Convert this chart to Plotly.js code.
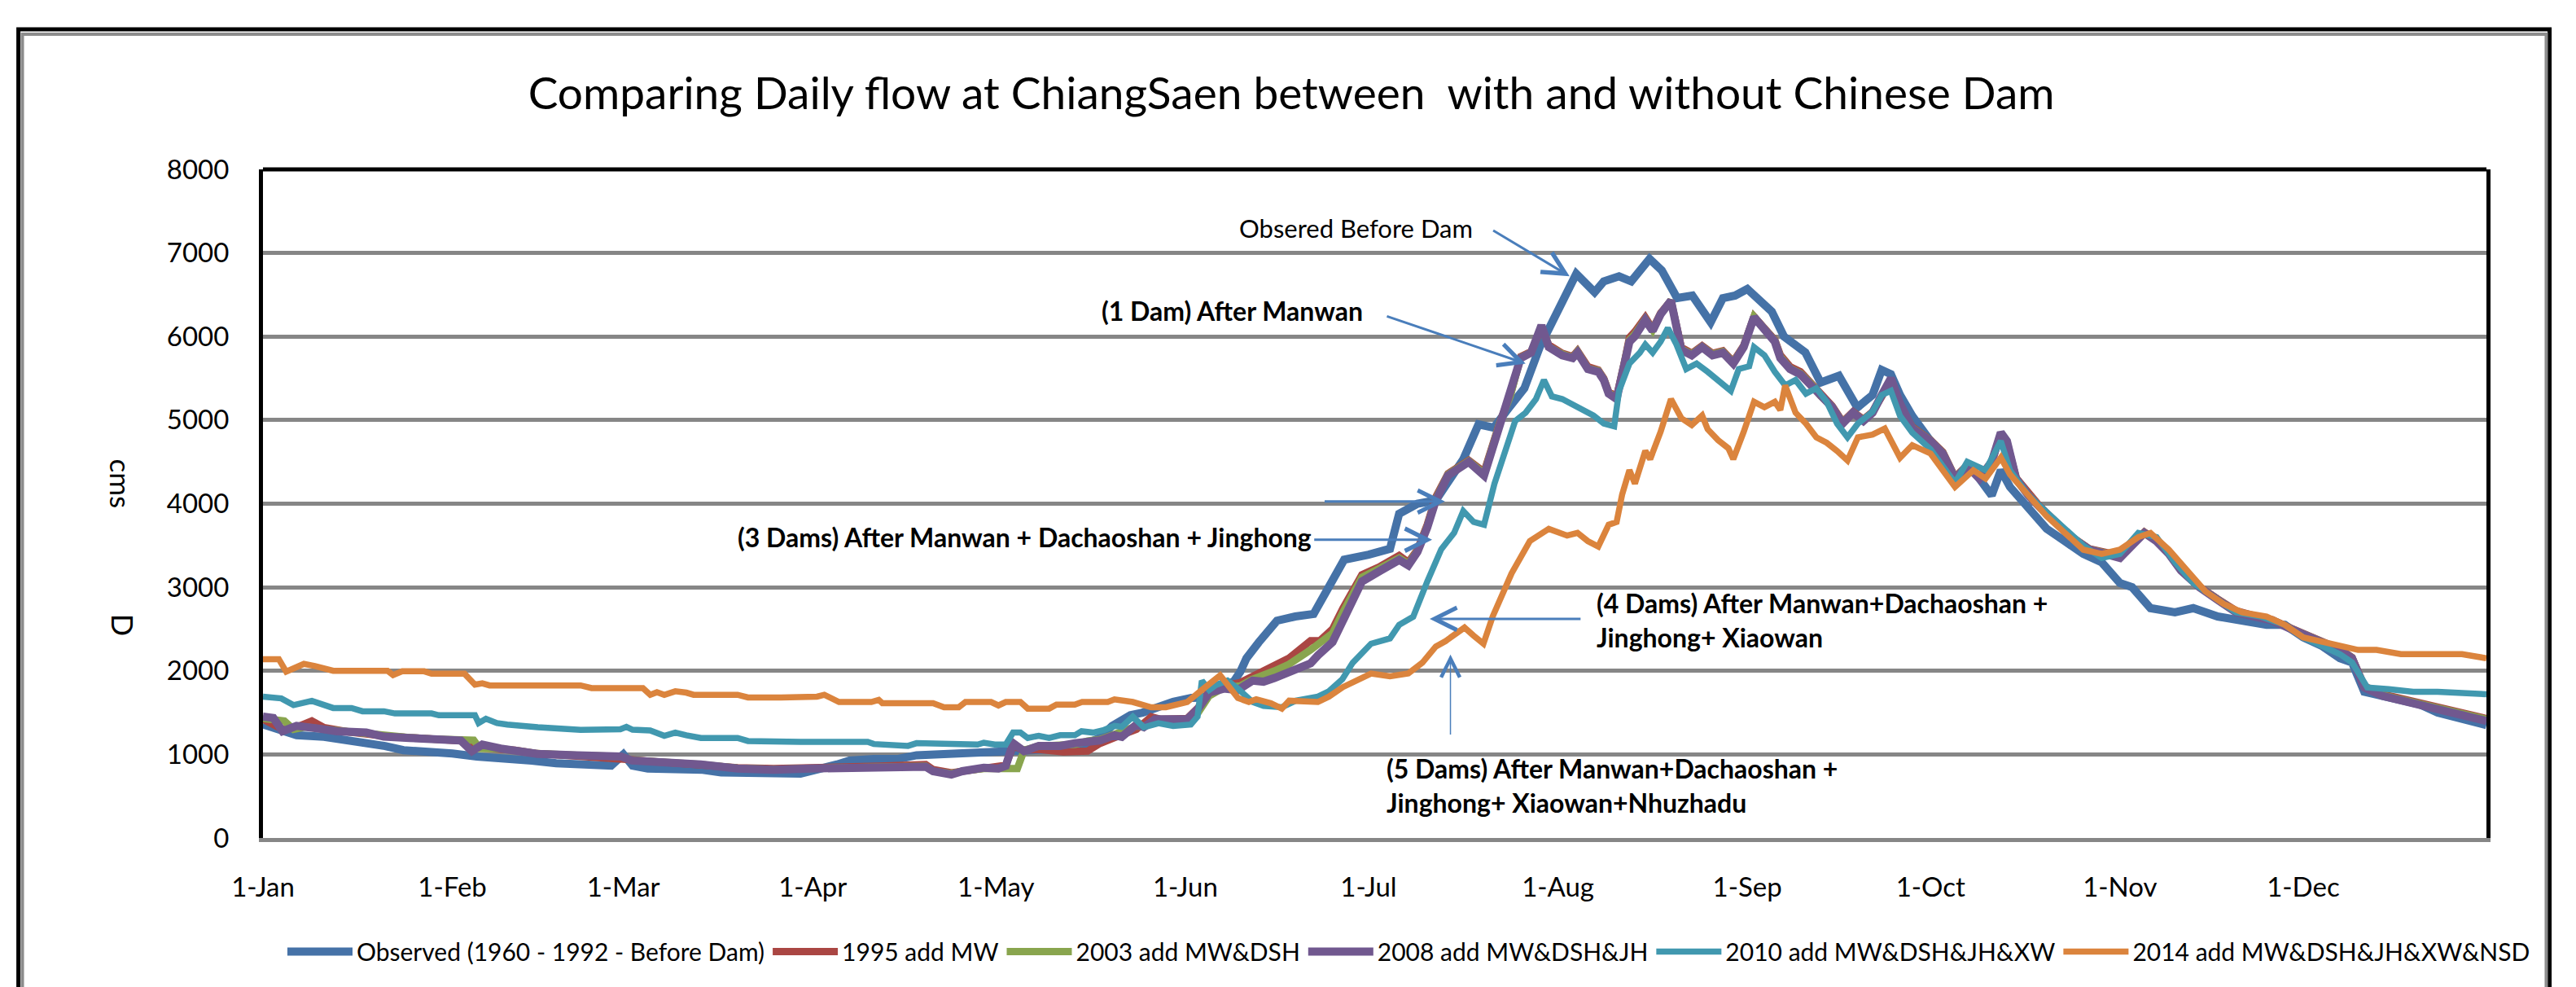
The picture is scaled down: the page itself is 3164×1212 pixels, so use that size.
<!DOCTYPE html>
<html>
<head>
<meta charset="utf-8">
<script src="https://cdn.plot.ly/plotly-3.0.1.min.js"></script>
<style>
  html, body { margin: 0; padding: 0; background: #ffffff; }
  #chart { width: 3164px; height: 1212px; }
</style>
</head>
<body>
<div id="chart"></div>
<script>
// ---------------- DATA (day of year, cms) ----------------
const monthTickDays = [0, 31, 59, 90, 120, 151, 181, 212, 243, 273, 304, 334];
const monthTickLabels = ['1-Jan','1-Feb','1-Mar','1-Apr','1-May','1-Jun','1-Jul','1-Aug','1-Sep','1-Oct','1-Nov','1-Dec'];

const seriesNames = [
  'Observed (1960 - 1992 - Before Dam)',
  '1995 add MW',
  '2003 add MW&DSH',
  '2008 add MW&DSH&JH',
  '2010 add MW&DSH&JH&XW',
  '2014 add MW&DSH&JH&XW&NSD'
];

const observed = [[0,1360],[3,1280],[5.5,1230],[10,1210],[13,1180],[16,1140],[20,1100],[23,1050],[28,1040],[31,1010],[35,975],[39,960],[44,925],[48,895],[54,865],[57,865],[59,1000],[60.5,865],[63,830],[72,815],[75,785],[82,770],[88,770],[94,880],[96,925],[100,945],[104,945],[107,990],[111,1005],[117,1020],[119,1040],[125,1040],[129,1070],[132,1070],[135,1130],[137,1200],[139,1340],[142,1470],[144,1500],[147,1580],[149,1630],[152,1675],[154,1680],[157,1800],[159,1880],[160,1990],[161,2150],[163,2340],[166,2600],[169,2650],[172,2680],[174,2940],[177,3330],[181,3390],[184.5,3460],[186,3880],[189,4000],[192,4040],[194,4265],[196.5,4530],[199,4950],[201.5,4910],[204,5150],[206.5,5380],[209,5870],[212,6300],[215,6750],[218,6530],[219.5,6660],[222,6720],[224,6660],[227,6930],[229,6790],[231.5,6460],[234,6490],[237,6170],[239,6460],[241,6490],[243,6570],[247,6300],[249,6000],[252.5,5810],[255,5450],[258,5530],[261,5150],[263.5,5300],[265,5600],[266.5,5550],[268,5300],[270,5050],[273,4750],[277,4300],[280,4400],[283,4100],[284.5,4400],[286,4200],[289,3950],[292,3700],[295,3550],[298,3400],[301,3300],[304,3050],[306,3000],[309,2750],[313,2700],[316,2750],[320,2650],[324,2600],[328,2550],[331,2550],[334,2400],[337,2300],[340,2150],[342,2100],[344,1750],[347,1700],[350,1650],[353,1600],[356,1500],[359,1450],[362,1400],[364,1350]];

const add1995 = [[0,1420],[3.2,1300],[6,1340],[8,1400],[10,1320],[14,1270],[19.8,1220],[24,1200],[27.6,1180],[33,1160],[35,1080],[38.9,1075],[41.3,1050],[44.9,1010],[51.4,985],[58.6,960],[60.4,935],[65.7,905],[71.7,870],[77.7,840],[83.6,830],[89.5,840],[100.2,840],[101,860],[108.5,880],[109.7,820],[112.7,780],[114.5,800],[118,840],[121.6,870],[122.8,1100],[124.6,1050],[127,1060],[131,1030],[135,1040],[137,1130],[139.4,1200],[143,1300],[145.4,1450],[147,1420],[151.3,1430],[153.1,1560],[154.9,1760],[157.3,1820],[160,1860],[162,1930],[165.6,2050],[168,2153],[171.5,2360],[173,2360],[175.1,2500],[176.8,2750],[179.9,3150],[182.9,3250],[186,3380],[187.5,3300],[189,3450],[190.6,3750],[192,4080],[194,4360],[197.4,4520],[199.9,4380],[202.5,4980],[204.2,5300],[205.9,5760],[207.6,5820],[209.3,6100],[210.5,5900],[212.7,5800],[214.4,5760],[215.2,5830],[216.9,5640],[218.6,5600],[219.5,5500],[220.3,5340],[221.6,5280],[222.9,5700],[223.7,5990],[224.6,6060],[226.3,6230],[227.5,6090],[228.8,6280],[230.5,6430],[231.4,6080],[232.2,5870],[233.9,5800],[235.6,5890],[237.3,5800],[239,5830],[240.7,5700],[242.4,5890],[244.1,6240],[245.8,6110],[247.5,5960],[248.4,5780],[250,5640],[251.7,5580],[253.5,5440],[255,5300],[256.9,5170],[258.6,4980],[260.3,5100],[262,5010],[263.5,5100],[265,5280],[266.5,5460],[268,5180],[270,4920],[273,4760],[275,4620],[277,4320],[279,4460],[281,4320],[283,4500],[284.5,4830],[285.5,4730],[287,4310],[289,4120],[291,3960],[293,3820],[296,3610],[299,3460],[302,3420],[304,3380],[306,3520],[308,3660],[310,3560],[312,3420],[314,3220],[317,3010],[320,2860],[323,2720],[326,2660],[329,2610],[332,2510],[335,2410],[338,2320],[340,2260],[342,2160],[344,1820],[347,1720],[350,1670],[353,1610],[356,1560],[359,1510],[362,1460],[364,1430]];

const add2003 = [[0,1430],[2,1420],[3.5,1400],[5,1300],[7,1330],[10,1300],[14,1270],[19.8,1220],[24,1200],[27.6,1185],[32,1170],[34.5,1170],[35.5,1070],[38.9,1070],[41.3,1045],[44.9,1010],[51.4,990],[58.6,975],[60.4,930],[65.7,910],[71.7,880],[77.7,835],[83.6,820],[89.5,830],[100.2,835],[101,850],[108.5,860],[109.7,800],[112.7,770],[114.5,800],[118,830],[121.6,830],[123.5,830],[124.6,1050],[127,1100],[130.5,1110],[133,1120],[135,1160],[137,1180],[139.4,1240],[143,1340],[144.2,1330],[146,1410],[151.3,1410],[153.1,1500],[154.9,1700],[157.3,1800],[160,1820],[162,1900],[165.6,2000],[168,2080],[171.5,2250],[175.1,2450],[176.8,2700],[179.9,3120],[182.9,3230],[186,3350],[187.5,3280],[189,3440],[190.6,3730],[192,4060],[194,4350],[197.4,4510],[199.9,4360],[202.5,4970],[204.2,5290],[205.9,5750],[207.6,5810],[209.3,6120],[210.5,5880],[212.7,5790],[214.4,5750],[215.2,5820],[216.9,5620],[218.6,5590],[219.5,5490],[220.3,5330],[221.6,5260],[222.9,5670],[223.7,5960],[224.6,6030],[226.3,6210],[227.5,6080],[228.8,6270],[230.5,6430],[231.4,6070],[232.2,5850],[233.9,5790],[235.6,5880],[237.3,5790],[239,5820],[240.7,5690],[242.4,5880],[244.1,6235],[245.8,6105],[247.5,5950],[248.4,5760],[250,5620],[251.7,5560],[253.5,5430],[255,5290],[256.9,5160],[258.6,4970],[260.3,5090],[262,5000],[263.5,5095],[265,5290],[266.5,5480],[268,5190],[270,4910],[273,4755],[275,4610],[277,4310],[279,4455],[281,4310],[283,4500],[284.5,4840],[285.5,4740],[287,4305],[289,4110],[291,3955],[293,3810],[296,3605],[299,3455],[302,3410],[304,3365],[306,3510],[308,3655],[310,3555],[312,3410],[314,3210],[317,3005],[320,2855],[323,2710],[326,2655],[329,2605],[332,2505],[335,2405],[338,2310],[340,2255],[342,2155],[344,1810],[347,1710],[350,1660],[353,1605],[356,1555],[359,1505],[362,1455],[364,1420]];

const add2008 = [[0,1452],[1.7,1436],[3.2,1277],[5.5,1341],[9.1,1309],[12.1,1277],[16.9,1261],[19.8,1213],[24,1197],[27.6,1181],[32.4,1166],[34.2,1038],[35.9,1118],[38.9,1070],[41.3,1045],[44.9,1006],[51.4,990],[58.6,974],[60.4,927],[65.7,911],[71.7,879],[77.7,831],[83.6,815],[89.5,831],[100.2,831],[101,853],[108.5,853],[109.7,799],[112.7,758],[114.5,799],[116.9,815],[118,841],[120.4,831],[121.6,863],[122.8,1134],[124.6,1038],[127,1102],[130.5,1102],[132.9,1134],[134.7,1150],[137,1166],[139.4,1229],[140.6,1210],[143,1357],[144.2,1325],[146,1420],[151.3,1420],[153.1,1548],[154.9,1739],[157.3,1787],[159.6,1771],[162,1882],[163.8,1870],[165.6,1914],[168,1978],[169.7,2041],[171.5,2089],[172.7,2185],[175.1,2344],[176.8,2600],[179.9,3068],[182.9,3197],[186,3327],[187.5,3262],[189,3424],[190.6,3715],[192,4039],[194,4337],[197.4,4500],[199.9,4337],[202.5,4958],[204.2,5284],[205.9,5742],[207.6,5807],[209.3,6134],[210.5,5873],[212.7,5775],[214.4,5742],[215.2,5807],[216.9,5611],[218.6,5578],[219.5,5480],[220.3,5317],[221.6,5252],[222.9,5644],[223.7,5938],[224.6,6003],[226.3,6199],[227.5,6069],[228.8,6265],[230.5,6428],[231.4,6069],[232.2,5840],[233.9,5775],[235.6,5873],[237.3,5775],[239,5807],[240.7,5677],[242.4,5873],[244.1,6232],[245.8,6101],[247.5,5938],[248.4,5742],[250,5611],[251.7,5546],[253.5,5415],[255,5284],[256.9,5154],[258.6,4958],[260.3,5088],[262,4990],[263.5,5088],[265,5300],[266.5,5500],[268,5200],[270,4900],[273,4750],[275,4600],[277,4300],[279,4450],[281,4300],[283,4500],[284.5,4850],[285.5,4750],[287,4300],[289,4100],[291,3950],[293,3800],[296,3600],[299,3450],[302,3400],[304,3350],[306,3500],[308,3650],[310,3550],[312,3400],[314,3200],[317,3000],[320,2850],[323,2700],[326,2650],[329,2600],[332,2500],[335,2400],[338,2300],[340,2250],[342,2150],[344,1800],[347,1700],[350,1650],[353,1600],[356,1550],[359,1500],[362,1450],[364,1400]];

const add2010 = [[0,1690],[3,1670],[5,1590],[6,1610],[8,1640],[11.5,1555],[14.5,1555],[16.3,1516],[19.8,1516],[21.6,1490],[27.6,1490],[28.8,1468],[34.7,1468],[35.3,1375],[36.5,1427],[38.3,1375],[40,1357],[45,1325],[52,1293],[58.5,1300],[59.5,1330],[60.5,1295],[63.4,1287],[65.7,1223],[67.5,1261],[69.3,1229],[71.7,1197],[77.7,1197],[79.4,1160],[88,1150],[99,1150],[100,1124],[105.6,1102],[107,1134],[112,1134],[113.3,1118],[117,1118],[118,1140],[119.8,1118],[121.6,1118],[122.8,1261],[124,1261],[125.2,1197],[127,1223],[128.7,1197],[130.5,1229],[132.9,1229],[134,1277],[135.9,1261],[137.7,1293],[139.4,1341],[140.6,1330],[142.4,1452],[144.2,1325],[146.6,1373],[149,1341],[151.9,1357],[153,1452],[153.7,1882],[154.9,1771],[156,1830],[157.9,1882],[159.6,1787],[162,1627],[163.8,1580],[166.8,1564],[169.1,1643],[172.7,1691],[174.5,1755],[176.7,1900],[178.4,2097],[181.4,2324],[184.5,2388],[186,2550],[188.3,2647],[190.6,3068],[192.9,3456],[195,3650],[196.5,3912],[198.2,3781],[199.9,3748],[201.6,4239],[203.3,4631],[205,4990],[206.7,5088],[208.4,5252],[209.7,5480],[211,5284],[212.7,5252],[214.4,5186],[216,5121],[217.8,5056],[219.5,4958],[221.2,4925],[222,5350],[223.7,5677],[225.4,5807],[226.3,5905],[227.5,5807],[228.8,5938],[230,6101],[231.4,5905],[233,5611],[234.7,5677],[236.5,5578],[238.2,5480],[240.3,5350],[241.6,5611],[243.3,5644],[244.1,5873],[245.8,5775],[247.5,5578],[249.2,5415],[250.9,5480],[252.6,5317],[254.3,5382],[256,5219],[257.7,4958],[259.4,4794],[261.1,4958],[263.5,5100],[265,5300],[266.5,5350],[268,5050],[270,4850],[273,4650],[277,4250],[279,4500],[282,4400],[284.5,4750],[286,4400],[289,4100],[292,3900],[295,3700],[298,3500],[301,3350],[304,3400],[307,3650],[310,3600],[313,3300],[316,3050],[320,2850],[323,2700],[327,2650],[331,2550],[334,2400],[337,2300],[340,2200],[342,2100],[344.5,1800],[348,1780],[352,1750],[356,1750],[360,1740],[364,1720]];

const add2014 = [[0,2140],[2.6,2140],[3.8,1990],[6.7,2083],[8.5,2057],[10.3,2032],[11.5,2000],[20.4,2000],[21.3,1950],[22.8,1994],[26.4,1994],[27.6,1965],[33,1965],[34.7,1834],[35.9,1850],[37.1,1825],[52,1825],[53.8,1793],[62.2,1793],[63.4,1713],[64.5,1745],[65.7,1713],[67.5,1755],[69.3,1739],[70.5,1713],[77.7,1713],[79.4,1682],[84.8,1682],[88,1690],[90.7,1691],[91.9,1713],[94.3,1627],[99.6,1627],[100.8,1653],[101.4,1612],[109.7,1612],[111.5,1564],[113.9,1564],[115,1627],[119.2,1627],[120.4,1586],[121.6,1627],[124,1627],[125.2,1548],[128.7,1548],[129.9,1596],[132.9,1596],[134.1,1627],[138.3,1627],[139.4,1659],[142.4,1627],[145.4,1564],[147.8,1564],[151.3,1627],[153.7,1771],[156.7,1946],[159.6,1675],[161.4,1627],[162.6,1659],[165,1612],[166.8,1548],[168,1643],[172.7,1627],[174.5,1691],[176.8,1806],[181.4,1968],[184.5,1935],[187.5,1968],[189.8,2097],[192,2291],[193.6,2356],[196.7,2518],[198.2,2421],[199.8,2324],[201.3,2647],[202.8,2906],[204.4,3165],[207.4,3553],[210.5,3699],[213.5,3618],[215.2,3650],[216.9,3552],[218.6,3487],[220.3,3748],[221.6,3781],[222.5,4108],[223.7,4402],[224.6,4239],[226.3,4631],[227.1,4533],[228.8,4859],[230.5,5252],[232.2,5023],[233.9,4941],[235.6,5056],[236.5,4892],[238.2,4761],[239.9,4663],[240.7,4533],[242.4,4859],[244.1,5219],[245.8,5154],[247.5,5219],[248.4,5121],[249.2,5415],[250.9,5088],[252.6,4957],[254.3,4794],[256,4729],[257.7,4631],[259.4,4516],[261.1,4794],[263.5,4827],[265.5,4900],[268,4550],[270,4700],[273,4600],[277,4200],[280,4400],[282,4300],[284.5,4550],[286,4350],[289,4100],[292,3850],[295,3650],[298,3450],[301,3400],[304,3450],[307,3600],[309,3650],[312,3450],[315,3200],[318,2950],[321,2800],[324,2700],[328,2650],[331,2550],[334,2400],[337,2350],[340,2300],[343,2250],[346,2250],[350,2200],[355,2200],[360,2200],[364,2150]];

// ---------------- STYLE ----------------
const seriesData = [observed, add1995, add2003, add2008, add2010, add2014];
const seriesColors = ['#4572A7', '#AA4643', '#89A54E', '#71588F', '#4198AF', '#DB843D'];
const seriesWidths = [10, 9, 9, 10, 7.5, 7.5];

const traces = seriesData.map((d, i) => ({
  type: 'scatter',
  mode: 'lines',
  name: seriesNames[i],
  x: d.map(p => p[0]),
  y: d.map(p => p[1]),
  line: { color: seriesColors[i], width: seriesWidths[i] },
  hoverinfo: 'x+y+name'
}));

const FONT = 'Lato, "Open Sans", sans-serif';
const arrowColor = '#4A7EBB';

const textNotes = [
  { text: 'Obsered Before Dam', x: 159.5, y: 7294, bold: false, size: 31 },
  { text: '(1 Dam) After Manwan', x: 137, y: 6314, bold: true, size: 32 },
  { text: '(3 Dams) After Manwan + Dachaoshan + Jinghong', x: 77.4, y: 3600, bold: true, size: 32 },
  { text: '(4 Dams) After Manwan+Dachaoshan +<br>Jinghong+ Xiaowan', x: 218.1, y: 2610, bold: true, size: 32 },
  { text: '(5 Dams) After Manwan+Dachaoshan +<br>Jinghong+ Xiaowan+Nhuzhadu', x: 183.7, y: 625, bold: true, size: 32 }
];
// arrows: [tailDay, tailValue, headDay, headValue, width]
const arrows = [
  [201.2, 7278, 213.9, 6722, 3],
  [183.8, 6248, 206.7, 5676, 3],
  [173.6, 4026, 193.5, 4026, 3],
  [171.9, 3569, 191.4, 3569, 3],
  [215.9, 2622, 191.0, 2622, 3],
  [194.4, 1223, 194.4, 2194, 1.5]
];

const annotations = [];
textNotes.forEach(n => {
  annotations.push({
    x: n.x, y: n.y, xref: 'x', yref: 'y',
    text: n.bold ? '<b>' + n.text.replace('<br>', '</b><br><b>') + '</b>' : n.text,
    showarrow: false, xanchor: 'left', yanchor: 'middle', align: 'left',
    font: { family: FONT, size: n.size, color: '#000000' }
  });
});
arrows.forEach(a => {
  annotations.push({
    x: a[2], y: a[3], ax: a[0], ay: a[1],
    xref: 'x', yref: 'y', axref: 'x', ayref: 'y',
    text: '', showarrow: true, arrowhead: 5, arrowsize: a[4] > 2 ? 1.8 : 3,
    arrowwidth: a[4], arrowcolor: arrowColor, standoff: 0, startstandoff: 0
  });
});
// y axis title fragments (rotated, reading downward)
annotations.push({ xref: 'paper', yref: 'paper', x: -0.072, y: 0.53, text: 'cms', textangle: 90,
  showarrow: false, font: { family: FONT, size: 35, color: '#000' } });
annotations.push({ xref: 'paper', yref: 'paper', x: -0.072, y: 0.30, text: 'D', textangle: 90,
  showarrow: false, font: { family: FONT, size: 36, color: '#000' } });

const shapes = [
  // outer chart frame (black outside, grey inside)
  { type: 'rect', xref: 'paper', yref: 'paper', x0: -0.1100, x1: 1.0284, y0: -0.30, y1: 1.2096,
    line: { color: '#000000', width: 5 }, layer: 'below' },
  { type: 'rect', xref: 'paper', yref: 'paper', x0: -0.1082, x1: 1.0269, y0: -0.30, y1: 1.2023,
    line: { color: '#8C8C8C', width: 4 }, layer: 'below' },
  // top border of plot area (black)
  { type: 'line', xref: 'paper', yref: 'paper', x0: 0, x1: 1, y0: 1, y1: 1,
    line: { color: '#000000', width: 5 } }
];

const layout = {
  width: 3164, height: 1212,
  paper_bgcolor: '#ffffff', plot_bgcolor: '#ffffff',
  margin: { l: 323, r: 110, t: 208, b: 183, pad: 0 },
  font: { family: FONT, color: '#000000' },
  title: {
    text: 'Comparing Daily flow at ChiangSaen between  with and without Chinese Dam',
    font: { family: FONT, size: 55, color: '#000000' },
    x: 0.4625, xanchor: 'center', xref: 'paper', y: 0.905, yanchor: 'middle'
  },
  xaxis: {
    range: [0, 364],
    tickmode: 'array', tickvals: monthTickDays, ticktext: monthTickLabels,
    showgrid: false, zeroline: false,
    showline: true, linecolor: '#868686', linewidth: 5,
    ticks: '', ticklabelstandoff: 27,
    tickfont: { family: FONT, size: 33, color: '#000000' }
  },
  yaxis: {
    range: [0, 8000], dtick: 1000, tick0: 0,
    showgrid: true, gridcolor: '#868686', gridwidth: 5,
    zeroline: false,
    showline: true, linecolor: '#000000', linewidth: 5, mirror: true,
    ticks: '', ticklabelstandoff: 30,
    tickfont: { family: FONT, size: 33, color: '#000000' }
  },
  showlegend: true,
  legend: {
    orientation: 'h', x: 1.0216, xanchor: 'right', y: -0.17, yanchor: 'middle',
    font: { family: FONT, size: 30, color: '#000000' },
    itemwidth: 80, tracegroupgap: 0, bgcolor: 'rgba(0,0,0,0)'
  },
  annotations: annotations,
  shapes: shapes
};

Plotly.newPlot('chart', traces, layout, { displayModeBar: false, staticPlot: true });
</script>
</body>
</html>
